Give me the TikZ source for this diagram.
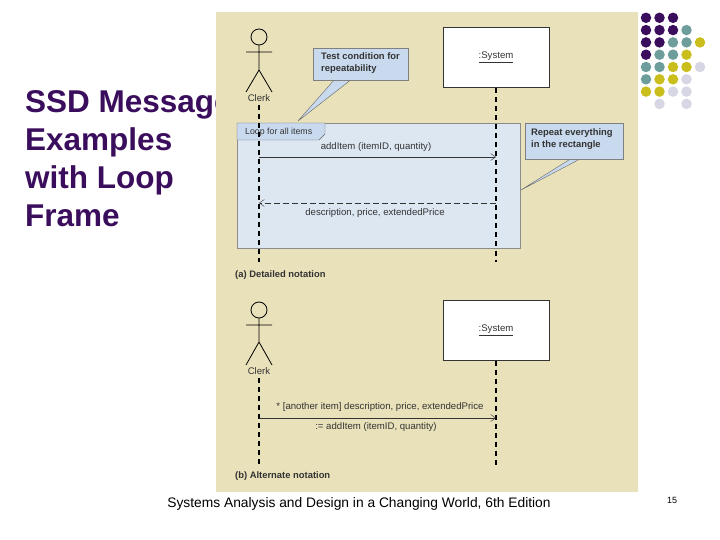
\documentclass[tikz,border=0pt]{standalone}
\usepackage{fontspec}
\setmainfont{Liberation Sans}
\usetikzlibrary{arrows.meta}
\begin{document}
\begin{tikzpicture}[x=1pt,y=-1pt,
  lbl/.style={inner sep=0pt,font=\fontsize{9.6}{11}\selectfont,text=black!80},
  blbl/.style={inner sep=0pt,font=\bfseries\fontsize{9.4}{12}\selectfont,align=left,text=black!80},
  life/.style={line width=1.3pt,dash pattern=on 5pt off 4pt},
  actor/.style={line width=0.8pt},
  msg/.style={-{Straight Barb[length=5pt,width=7pt]},black!80},
  sysbox/.style={draw=black!80,fill=white,line width=1pt,minimum width=106pt,minimum height=60pt},
  note/.style={draw=black!50,fill=notefill,inner sep=0pt},
  dot/.style={circle,minimum size=10.5pt,inner sep=0pt}]
\definecolor{beige}{HTML}{E8E1B9}
\definecolor{pp}{HTML}{3A0E5C}
\definecolor{tl}{HTML}{6E9E9C}
\definecolor{yl}{HTML}{C9BE1C}
\definecolor{lg}{HTML}{D6D6E4}
\definecolor{loopfill}{HTML}{DDE7F2}
\definecolor{notefill}{HTML}{C9DAEE}
\useasboundingbox (0,0) rectangle (720,540);
\fill[white] (0,0) rectangle (720,540);
% title
\node[anchor=north west,align=left,text=pp,font=\bfseries\fontsize{31.5}{38}\selectfont,inner sep=0pt] (title) at (25,90) {SSD Message\\Examples\\with Loop\\Frame};
% panel
\fill[beige] (216,12) rectangle (638,492);
% dots
\foreach \c [count=\r] in {{pp,pp,pp,,},{pp,pp,pp,tl,},{pp,pp,tl,tl,yl},{pp,tl,tl,yl,},{tl,tl,yl,yl,lg},{tl,yl,yl,lg,},{yl,yl,lg,lg,},{,lg,,lg,}}{
  \foreach \k [count=\i] in \c {
    \ifx\k\empty\else
    \node[dot,fill=\k] (d\r\i) at ({632.5+13.5*\i},{5.5+12.3*\r}) {};
    \fi
  }
}
% ===== (a)
\fill[loopfill,draw=black!45] (237,123) rectangle (520,248);
\draw[fill=notefill,draw=black!60] (237,123) -- (325,123) -- (325,134) -- (319,140) -- (237,140) -- cycle;
\node[lbl,anchor=west,font=\fontsize{8.8}{10}\selectfont] (looplbl) at (245,132) {Loop for all items};
% actor a
\draw[actor] (259,37) circle (8);
\draw[actor] (259,45) -- (259,70) (246,52) -- (272,52) (246,92) -- (259,70) -- (272,92);
\node[lbl] (clerkA) at (259,98) {Clerk};
\node[sysbox] (sysA) at (496,58) {};
\node[lbl] at (496,57) {\underline{:System}};
\coordinate (la1) at (259,105); \coordinate (la2) at (259,262);
\coordinate (lb2) at (496,262);
\draw[life] (la1) -- (la2);
\draw[life] (sysA.south) -- (lb2);
\coordinate (m1a) at (259,157); \coordinate (m1b) at (496,157);
\draw[msg] (m1a) -- (m1b);
\node[lbl,anchor=south] at (376,152) {addItem (itemID, quantity)};
\coordinate (m2a) at (496,203); \coordinate (m2b) at (259,203);
\draw[msg,dash pattern=on 6pt off 3pt] (m2a) -- (m2b);
\node[lbl,anchor=north] at (375,208) {description, price, extendedPrice};
% notes
\fill[notefill] (335,79) -- (298,121) -- (352,79) -- cycle;
\draw[black!60] (335,79) -- (298,121) -- (352,79);
\node[note,minimum width=95pt,minimum height=32pt] (n1) at (360.5,64) {};
\node[blbl,anchor=north west] at (321,52) {Test condition for\\repeatability};
\fill[notefill] (572,158) -- (521,190) -- (582,158) -- cycle;
\draw[black!60] (572,158) -- (521,190) -- (582,158);
\node[note,minimum width=98pt,minimum height=36pt] (n2) at (574,141) {};
\node[blbl,anchor=north west] at (531,128) {Repeat everything\\in the rectangle};
\node[lbl,font=\bfseries\fontsize{9.4}{11}\selectfont,anchor=west] (capA) at (235,275) {(a) Detailed notation};
% ===== (b)
\draw[actor] (259,310) circle (8);
\draw[actor] (259,318) -- (259,342) (246,325) -- (272,325) (246,365) -- (259,342) -- (272,365);
\node[lbl] (clerkB) at (259,371) {Clerk};
\node[sysbox] (sysB) at (496,330) {};
\node[lbl] at (496,330) {\underline{:System}};
\coordinate (lc1) at (259,378); \coordinate (lc2) at (259,465);
\coordinate (ld2) at (496,465);
\draw[life] (lc1) -- (lc2);
\draw[life] (sysB.south) -- (ld2);
\coordinate (m3a) at (259,418); \coordinate (m3b) at (496,418);
\draw[msg] (m3a) -- (m3b);
\node[lbl,anchor=south] at (380,412) {* [another item] description, price, extendedPrice};
\node[lbl,anchor=north] at (376,422) {:= addItem (itemID, quantity)};
\node[lbl,font=\bfseries\fontsize{9.4}{11}\selectfont,anchor=west] (capB) at (235,476) {(b) Alternate notation};
% footer
\node[inner sep=0pt,font=\fontsize{13.8}{15}\selectfont] (foot) at (359,504) {Systems Analysis and Design in a Changing World, 6th Edition};
\node[inner sep=0pt,font=\fontsize{9}{10}\selectfont] (pg) at (672,500) {15};
\end{tikzpicture}
\end{document}
